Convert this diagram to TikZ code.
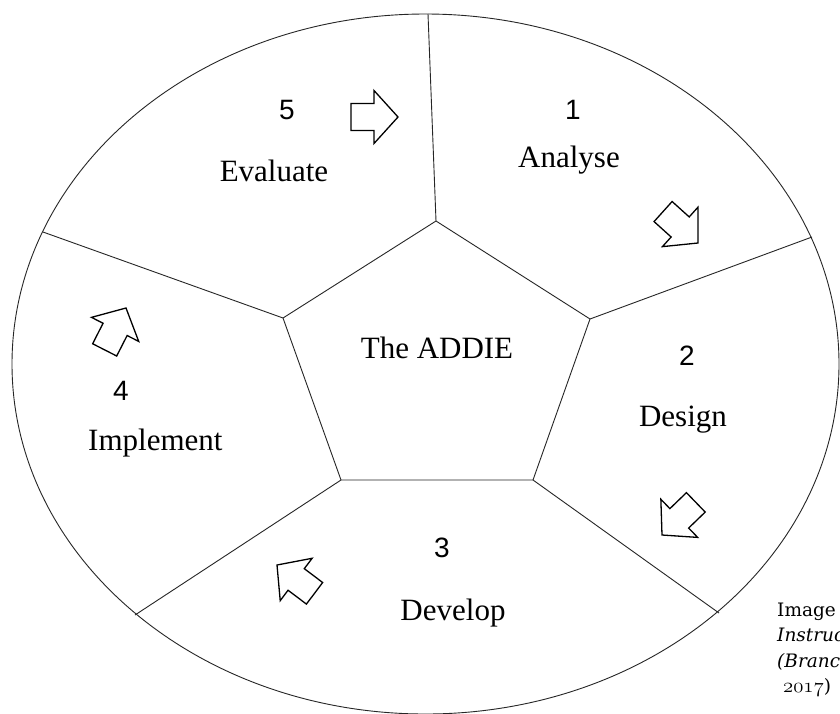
\documentclass[tikz,border=0pt]{standalone}
\usepackage{fontspec}
\setmainfont{Liberation Serif}
\newfontfamily\numfont{Liberation Sans}
\newfontfamily\notefont{DejaVu Serif}
% outlined block arrow: tip at #2, pointing in direction #3 (degrees)
\newcommand\phasearrow[3]{%
  \draw[flowarrow, shift={(#2)}, rotate=#3] (0,0) -- (-24,26.5) -- (-24,13.5)
    -- (-47,13.5) -- (-47,-13.5) -- (-24,-13.5) -- (-24,-26.5) -- cycle
    node[coordinate] (#1) {};}
\begin{document}
\begin{tikzpicture}[x=1pt,y=-1pt,
  rim/.style={draw=black!85, line width=0.9pt},
  flowarrow/.style={draw=black, line width=1.3pt, line join=miter, fill=white},
  stage/.style={font=\fontsize{31}{34}\selectfont, inner sep=0pt, anchor=base},
  stagenum/.style={font=\numfont\fontsize{28}{30}\selectfont, inner sep=0pt, anchor=base},
  note/.style={font=\notefont\fontsize{18.5}{22}\selectfont, inner sep=0pt, anchor=base west},
  noteit/.style={note, font=\notefont\itshape\fontsize{18.5}{22}\selectfont}]
\useasboundingbox (0,0) rectangle (840,713);
\clip (0,0) rectangle (840,713);
\fill[white] (0,0) rectangle (840,713);

% outer cycle
\draw[rim] (425.5,364) ellipse [x radius=413.5pt, y radius=350pt];

% central pentagon
\coordinate (pT)  at (436,221);
\coordinate (pUR) at (590,319);
\coordinate (pBR) at (533,480);
\coordinate (pBL) at (341,480);
\coordinate (pUL) at (283,318);
\draw[rim] (pT) -- (pUR) -- (pBR) -- (pBL) -- (pUL) -- cycle;

% spokes dividing the five phases
\coordinate (rT)  at (428,14);
\coordinate (rUR) at (812,237);
\coordinate (rBR) at (719,613);
\coordinate (rBL) at (135,615);
\coordinate (rUL) at (43,232);
\draw[rim] (pT) -- (rT);
\draw[rim] (pUR) -- (rUR);
\draw[rim] (pBR) -- (rBR);
\draw[rim] (pBL) -- (rBL);
\draw[rim] (pUL) -- (rUL);

% centre label
\node[stage] (addie) at (437,358) {The ADDIE};

% phase numbers and names
\node[stagenum] (n1) at (573,119) {1};
\node[stage]    (t1) at (569,167) {Analyse};
\node[stagenum] (n2) at (687,365) {2};
\node[stage]    (t2) at (683,426) {Design};
\node[stagenum] (n3) at (442,557) {3};
\node[stage]    (t3) at (453,620) {Develop};
\node[stagenum] (n4) at (121,400) {4};
\node[stage, anchor=base west] (t4) at (88,450) {Implement};
\node[stagenum] (n5) at (287,119) {5};
\node[stage]    (t5) at (274,181) {Evaluate};

% direction arrows around the cycle
\phasearrow{a5}{398,117}{0}
\phasearrow{a1}{698,243}{-42}
\phasearrow{a2}{662,535}{-136}
\phasearrow{a3}{277,565}{143}
\phasearrow{a4}{126,308}{63}

% source note
\node[note]   (s1) at (777,616) {Image};
\node[noteit] (s2) at (777,641.5) {Instruc};
\node[noteit] (s3) at (777,667) {(Branc};
\node[note]   (s4) at (783,692.5) {{\fontsize{21}{22}\usefont{OML}{cmm}{m}{it}2017})};
\end{tikzpicture}
\end{document}
